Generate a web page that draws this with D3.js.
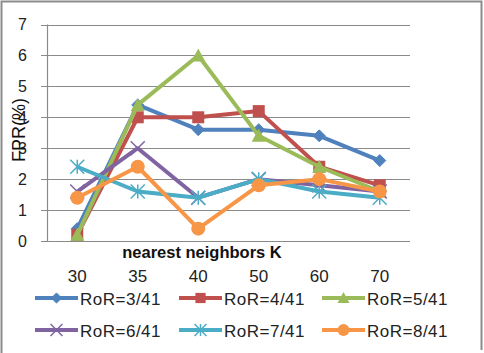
<!DOCTYPE html>
<html><head><meta charset="utf-8">
<script src="https://cdn.jsdelivr.net/npm/d3@7"></script>
<style>body{margin:0;background:#fff}svg{display:block}text{font-family:"Liberation Sans",Arial,sans-serif}</style>
</head><body>
<svg id="c" width="484" height="353"></svg>
<script>
const categories = ["30","35","40","50","60","70"];
const seriesNames = ["RoR=3/41","RoR=4/41","RoR=5/41","RoR=6/41","RoR=7/41","RoR=8/41"];
const s1 = [0.4,4.4,3.6,3.6,3.4,2.6];
const s2 = [0.2,4.0,4.0,4.2,2.4,1.8];
const s3 = [0.2,4.4,6.0,3.4,2.4,1.6];
const s4 = [1.6,3.0,1.4,2.0,1.8,1.6];
const s5 = [2.4,1.6,1.4,2.0,1.6,1.4];
const s6 = [1.4,2.4,0.4,1.8,2.0,1.6];
const yTicks = [0,1,2,3,4,5,6,7];
const colors = ["#4F81BD","#C0504D","#9BBB59","#8064A2","#4BACC6","#F79646"];
const markers = ["diamond","square","triangle","x","star","circle"];
const allSeries = [s1,s2,s3,s4,s5,s6];

const svg = d3.select("#c");
// outer frame
svg.append("path").attr("d","M1.5,353 V1.5 H481.5 V350").attr("fill","none").attr("stroke","#8c8c8c").attr("stroke-width",2);

const L=47, R=410, T=24.5, B=241;
const x = d3.scalePoint().domain(categories).range([L,R]).padding(0.5);
const y = d3.scaleLinear().domain([0,7]).range([B,T]);

// gridlines
svg.append("g").selectAll("line").data(yTicks).join("line")
  .attr("x1",41).attr("x2",R).attr("y1",d=>Math.round(y(d))+0.5).attr("y2",d=>Math.round(y(d))+0.5)
  .attr("stroke","#8a8a8a").attr("stroke-width",1.2);
svg.append("line").attr("x1",L+0.5).attr("x2",L+0.5).attr("y1",T).attr("y2",B).attr("stroke","#8a8a8a").attr("stroke-width",1.2);

// y tick labels
svg.append("g").selectAll("text").data(yTicks).join("text")
  .attr("x",27).attr("y",d=>y(d)+5.5).attr("text-anchor","end").attr("font-size",16).attr("fill","#222").text(d=>d);

// x tick labels
svg.append("g").selectAll("text").data(categories).join("text")
  .attr("x",d=>x(d)).attr("y",282).attr("text-anchor","middle").attr("font-size",17).attr("fill","#222").text(d=>d);

// axis titles
svg.append("text").attr("x",202).attr("y",258).attr("text-anchor","middle").attr("font-size",16.5).attr("font-weight","bold").attr("fill","#111").text("nearest neighbors K");
svg.append("text").attr("transform","translate(25,130) rotate(-90)").attr("text-anchor","middle").attr("font-size",18).attr("fill","#111").text("FPR(%)");

function drawMarker(g, type, color, cx, cy, s){
  const sc = s||1;
  if(type==="diamond"){
    g.append("path").attr("d",`M${cx},${cy-6*sc}L${cx+6*sc},${cy}L${cx},${cy+6*sc}L${cx-6*sc},${cy}Z`).attr("fill",color).attr("stroke",color);
  } else if(type==="square"){
    g.append("rect").attr("x",cx-6*sc).attr("y",cy-6*sc).attr("width",12*sc).attr("height",12*sc).attr("fill",color);
  } else if(type==="triangle"){
    g.append("path").attr("d",`M${cx},${cy-7*sc}L${cx+7*sc},${cy+6*sc}L${cx-7*sc},${cy+6*sc}Z`).attr("fill",color);
  } else if(type==="circle"){
    g.append("circle").attr("cx",cx).attr("cy",cy).attr("r",7*sc).attr("fill",color);
  } else if(type==="x"){
    const r=7*sc;
    g.append("path").attr("d",`M${cx-r},${cy-r}L${cx+r},${cy+r}M${cx-r},${cy+r}L${cx+r},${cy-r}`).attr("stroke",color).attr("stroke-width",1.5);
  } else if(type==="star"){
    const r=7*sc;
    g.append("path").attr("d",`M${cx-r},${cy-r}L${cx+r},${cy+r}M${cx-r},${cy+r}L${cx+r},${cy-r}M${cx},${cy-r}L${cx},${cy+r}`).attr("stroke",color).attr("stroke-width",1.5);
  }
}

const line = d3.line().x((d,i)=>x(categories[i])).y(d=>y(d));
allSeries.forEach((vals,k)=>{
  const g = svg.append("g");
  g.append("path").attr("d",line(vals)).attr("fill","none").attr("stroke",colors[k]).attr("stroke-width",4).attr("stroke-linejoin","round");
  vals.forEach((v,i)=>drawMarker(g, markers[k], colors[k], x(categories[i]), y(v)));
});

// legend
const legX = [35,179,322], legY=[298,330];
seriesNames.forEach((name,k)=>{
  const lx = legX[k%3], ly = legY[Math.floor(k/3)];
  const g = svg.append("g");
  g.append("line").attr("x1",lx).attr("x2",lx+43).attr("y1",ly).attr("y2",ly).attr("stroke",colors[k]).attr("stroke-width",4);
  drawMarker(g, markers[k], colors[k], lx+21.5, ly, 0.85);
  g.append("text").attr("x",lx+45).attr("y",ly+7).attr("font-size",17).attr("letter-spacing",0.5).attr("fill","#222").text(name);
});
</script>
</body></html>
